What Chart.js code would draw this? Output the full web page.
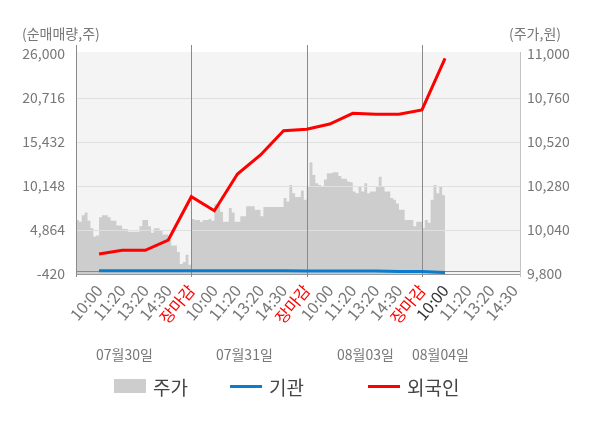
<!DOCTYPE html>
<html><head><meta charset="utf-8">
<script src="https://cdn.jsdelivr.net/npm/chart.js@4.4.0/dist/chart.umd.min.js"></script>
<style>
html,body{margin:0;padding:0;background:#fff;}
#wrap{position:relative;width:600px;height:428px;font-family:"Noto Sans CJK KR","Noto Sans",sans-serif;overflow:hidden;}
canvas{position:absolute;left:0;top:0;}
.lg{position:absolute;top:375px;height:22px;display:flex;align-items:center;font-size:19px;color:#444;white-space:nowrap;}
.lg .mk{display:inline-block;width:32px;margin-right:7px;}
</style></head>
<body>
<div id="wrap"><canvas id="c" width="600" height="428"></canvas><div id="legend"></div></div>
<script>
// ---------------- data ----------------
const seriesNames = ['주가', '기관', '외국인'];
const axisTitles = ['(순매매량,주)', '(주가,원)'];
const tickLabels = [
  '10:00','11:20','13:20','14:30','장마감',
  '10:00','11:20','13:20','14:30','장마감',
  '10:00','11:20','13:20','14:30','장마감',
  '10:00','11:20','13:20','14:30'
];
const dayLabels = ['07월30일', '07월31일', '08월03일', '08월04일'];
const dayLabelAt = [2.1, 7.3, 12.55, 15.8];
const dayBreaks = [5, 10, 15];
const leftTicks = [-420, 4864, 10148, 15432, 20716, 26000];
const rightTicks = [9800, 10040, 10280, 10520, 10760, 11000];
const priceStep = 0.125;
const priceValues = [
  10095,10085,10120,10135,10090,10050,10005,10010,10110,10120,
  10120,10110,10090,10090,10065,10065,10045,10045,10030,10030,
  10030,10030,10060,10095,10095,10060,10025,10050,10050,10040,
  10015,10015,9985,9955,9955,9920,9855,9865,9905,9850,
  10100,10095,10095,10085,10095,10095,10100,10090,10180,10180,
  10140,10085,10085,10160,10135,10085,10085,10115,10115,10170,
  10170,10170,10150,10150,10115,10165,10165,10165,10165,10165,
  10165,10165,10215,10195,10285,10240,10220,10220,10255,10205,
  10275,10410,10340,10295,10285,10275,10315,10350,10350,10355,
  10355,10335,10320,10320,10305,10300,10250,10240,10275,10250,
  10295,10240,10250,10250,10275,10330,10275,10250,10250,10215,
  10205,10185,10150,10150,10095,10095,10095,10060,10085,10085,
  10050,10095,10080,10205,10285,10240,10275,10230,10260
];
const instValues = [-20,-20,-20,-20,-20,-20,-20,-20,-20,-60,-60,-60,-60,-120,-120,-250];
const foreignValues = [1980,2430,2430,3660,8860,7180,11590,13870,16790,16960,17590,18880,18760,18760,19280,25480];

// ---------------- chart ----------------
Chart.defaults.font.family = '"Noto Sans CJK KR","Noto Sans",sans-serif';
const colors = { price: '#cdcdcd', inst: '#0a7ccc', foreign: '#ff0000' };

function hline(ctx, x1, x2, y) { ctx.beginPath(); ctx.moveTo(x1, y); ctx.lineTo(x2, y); ctx.stroke(); }
function vline(ctx, x, y1, y2) { ctx.beginPath(); ctx.moveTo(x, y1); ctx.lineTo(x, y2); ctx.stroke(); }

const deco = {
  id: 'deco',
  beforeDatasetsDraw(chart) {
    const { ctx, chartArea: a } = chart;
    ctx.save();
    ctx.fillStyle = '#f4f4f4';
    ctx.fillRect(a.left + 1, a.top - 2, a.right - a.left - 1, a.bottom - a.top + 2);
    ctx.restore();
  },
  afterDatasetDraw(chart, args) {
    if (args.index !== 0) return;
    const { ctx, chartArea: a, scales } = chart;
    const x = scales.x, yL = scales.yL;
    ctx.save();
    ctx.lineWidth = 1;
    ctx.strokeStyle = '#e0e0e0';
    leftTicks.slice(1, -1).forEach(v => hline(ctx, a.left, a.right, Math.round(yL.getPixelForValue(v)) + 0.5));
    ctx.strokeStyle = '#8a8a8a';
    hline(ctx, a.left, a.right, Math.round(yL.getPixelForValue(0)) + 0.5);
    ctx.strokeStyle = '#9a9a9a';
    hline(ctx, a.left, a.right, Math.round(a.bottom) + 0.5);
    ctx.strokeStyle = '#8a8a8a';
    vline(ctx, Math.round(a.left) + 0.5, a.top - 9, a.bottom + 3);
    dayBreaks.forEach(d => vline(ctx, Math.round(x.getPixelForValue(d)) + 0.5, a.top - 9, a.bottom + 3));
    ctx.strokeStyle = '#c4c4c4';
    vline(ctx, Math.round(a.right) + 0.5, a.top - 2, a.bottom + 3);
    ctx.restore();
  },
  afterDraw(chart) {
    const { ctx, scales } = chart;
    ctx.save();
    ctx.fillStyle = '#777';
    ctx.font = '14px "Noto Sans CJK KR"';
    ctx.textBaseline = 'middle';
    ctx.textAlign = 'left';
    ctx.fillText(axisTitles[0], 22, 34);
    ctx.fillText(axisTitles[1], 509, 34);
    ctx.textAlign = 'center';
    dayLabels.forEach((t, i) => ctx.fillText(t, scales.x.getPixelForValue(dayLabelAt[i]), 355));
    ctx.restore();
  }
};

const chart = new Chart(document.getElementById('c'), {
  data: {
    datasets: [
      { type: 'line', label: seriesNames[0], yAxisID: 'yR', order: 3,
        data: priceValues.map((v, k) => ({ x: k * priceStep, y: v })),
        backgroundColor: colors.price, borderWidth: 0, borderColor: colors.price,
        fill: 'start', stepped: true, pointRadius: 0 },
      { type: 'line', label: seriesNames[1], yAxisID: 'yL', order: 2,
        data: instValues.map((v, i) => ({ x: i + 1, y: v })),
        borderColor: colors.inst, borderWidth: 3, pointRadius: 0, fill: false, tension: 0 },
      { type: 'line', label: seriesNames[2], yAxisID: 'yL', order: 1,
        data: foreignValues.map((v, i) => ({ x: i + 1, y: v })),
        borderColor: colors.foreign, borderWidth: 3, pointRadius: 0, fill: false, tension: 0 }
    ]
  },
  options: {
    responsive: false, animation: false, devicePixelRatio: 1,
    layout: { padding: { top: 54, bottom: 74, left: 0, right: 0 } },
    plugins: { legend: { display: false }, tooltip: { enabled: false } },
    scales: {
      x: {
        type: 'linear', position: 'bottom', min: 0, max: 19.25,
        grid: { display: false, drawTicks: false }, border: { display: false },
        afterBuildTicks: s => { s.ticks = tickLabels.map((_, i) => ({ value: i + 1 })); },
        afterFit: s => { s.height = 80; },
        ticks: {
          autoSkip: false, minRotation: 50, maxRotation: 50, padding: 7,
          font: { size: 16 },
          color: c => tickLabels[c.index] === '장마감' ? '#ff0000' : (c.index === 15 ? '#333' : '#777'),
          callback: (v) => tickLabels[Math.round(v) - 1] || ''
        }
      },
      yL: {
        type: 'linear', position: 'left', min: -420, max: 26000,
        grid: { display: false, drawTicks: false }, border: { display: false },
        afterBuildTicks: s => { s.ticks = leftTicks.map(v => ({ value: v })); },
        afterFit: s => { s.width = 76; },
        ticks: { color: '#777', font: { size: 14 }, padding: 11,
          callback: v => v.toLocaleString('en-US') }
      },
      yR: {
        type: 'linear', position: 'right', min: 9800, max: 11000,
        grid: { display: false, drawTicks: false }, border: { display: false },
        afterBuildTicks: s => { s.ticks = rightTicks.map(v => ({ value: v })); },
        afterFit: s => { s.width = 80; },
        ticks: { color: '#777', font: { size: 14 }, padding: 7,
          callback: v => v.toLocaleString('en-US') }
      }
    }
  },
  plugins: [deco]
});

// ---------------- HTML legend ----------------
const legendLeft = [114, 230, 368];
const legendEl = document.getElementById('legend');
chart.data.datasets.forEach((ds, i) => {
  const item = document.createElement('div');
  item.className = 'lg';
  item.style.left = legendLeft[i] + 'px';
  const mk = document.createElement('span');
  mk.className = 'mk';
  if (i === 0) { mk.style.height = '14px'; mk.style.background = ds.backgroundColor; }
  else { mk.style.height = '3px'; mk.style.background = ds.borderColor; }
  item.appendChild(mk);
  item.appendChild(document.createTextNode(ds.label));
  legendEl.appendChild(item);
});
</script>
</body></html>
